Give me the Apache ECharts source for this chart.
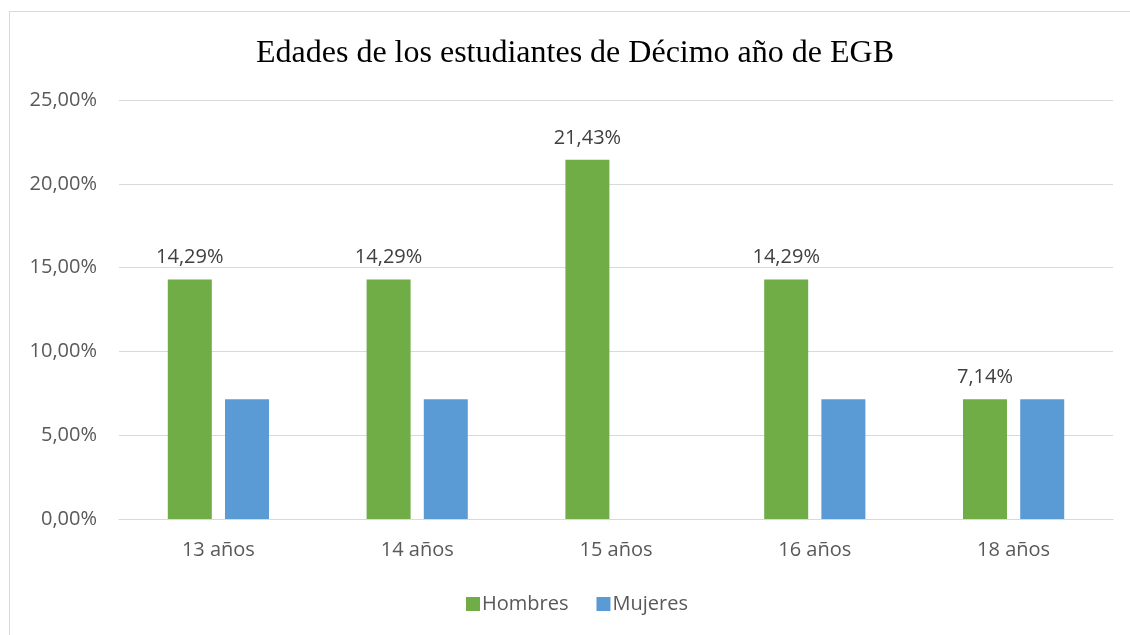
<!DOCTYPE html>
<html>
<head>
<meta charset="utf-8">
<script src="https://cdn.jsdelivr.net/npm/echarts@6/dist/echarts.min.js"></script>
<style>
  html, body { margin: 0; padding: 0; background: #fff; }
  #frame { position: absolute; left: 9px; top: 11px; width: 1140px; height: 640px; border: 1px solid #d9d9d9; box-sizing: border-box; }
  #app { position: absolute; left: 0; top: 0; width: 1130px; height: 635px; }
</style>
</head>
<body>
<div id="frame"></div>
<div id="app"></div>
<script>
  const categories = ["13 años", "14 años", "15 años", "16 años", "18 años"];
  const hombres = [14.29, 14.29, 21.43, 14.29, 7.14];
  const mujeres = [7.14, 7.14, 0, 7.14, 7.14];
  const yTicks = [0, 5, 10, 15, 20, 25];

  const fmt = (v) => v.toFixed(2).replace(".", ",") + "%";

  let myChart = echarts.init(document.getElementById("app"));
  let option = {
    animation: false,
    title: {
      text: "Edades de los estudiantes de Décimo año de EGB",
      left: 570,
      textAlign: "center",
      top: 33,
      textStyle: {
        fontFamily: "Liberation Serif",
        fontWeight: "normal",
        fontSize: 32,
        color: "#000",
      },
    },
    legend: {
      bottom: 16,
      left: 461,
      itemWidth: 14,
      itemHeight: 14,
      itemGap: 28,
      icon: "rect",
      textStyle: { fontFamily: "Open Sans", fontSize: 20, color: "#595959", padding: [0, 0, 0, -3] },
      data: ["Hombres", "Mujeres"],
    },
    grid: {
      left: 119,
      right: 17,
      top: 100,
      bottom: 116,
    },
    xAxis: {
      type: "category",
      data: categories,
      axisLine: { lineStyle: { color: "#d9d9d9" } },
      axisTick: { show: false },
      axisLabel: { fontFamily: "Open Sans", fontSize: 20, color: "#595959", margin: 21 },
    },
    yAxis: {
      type: "value",
      min: yTicks[0],
      max: yTicks[yTicks.length - 1],
      interval: 5,
      axisLine: { show: false },
      axisTick: { show: false },
      splitLine: { lineStyle: { color: "#d9d9d9" } },
      axisLabel: {
        fontFamily: "Open Sans",
        fontSize: 20,
        color: "#595959",
        margin: 22,
        formatter: fmt,
      },
    },
    series: [
      {
        name: "Hombres",
        type: "bar",
        data: hombres,
        barWidth: 44,
        barGap: "30%",
        itemStyle: { color: "#70ad47" },
        label: {
          show: true,
          position: "top",
          distance: 12,
          fontFamily: "Open Sans",
          fontSize: 20,
          color: "#404040",
          formatter: (p) => fmt(p.value),
        },
      },
      {
        name: "Mujeres",
        type: "bar",
        data: mujeres,
        barWidth: 44,
        barGap: "30%",
        itemStyle: { color: "#5b9bd5" },
      },
    ],
  };
  myChart.setOption(option);
</script>
</body>
</html>
